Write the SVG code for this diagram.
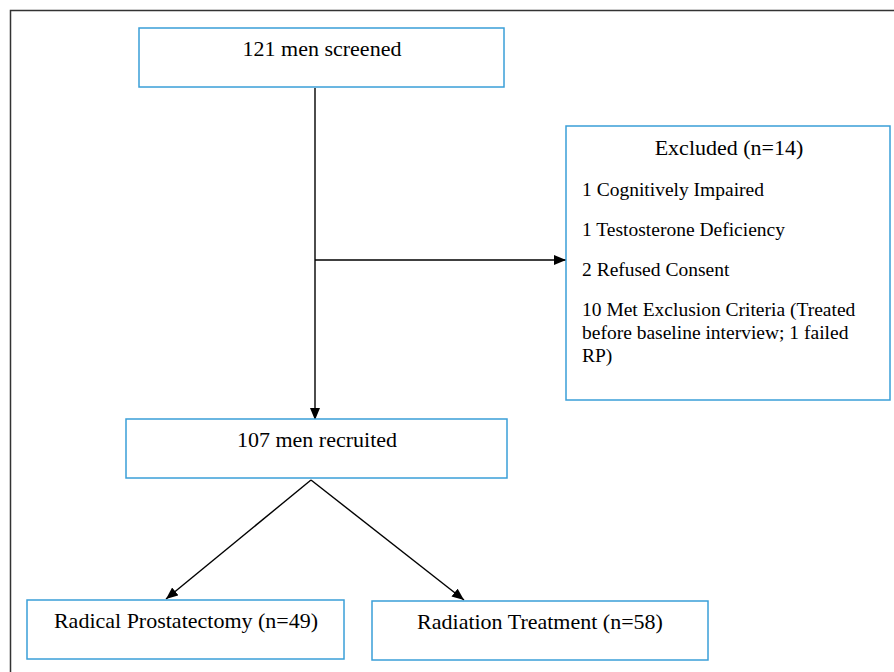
<svg xmlns="http://www.w3.org/2000/svg" width="894" height="672" viewBox="0 0 894 672">
<defs>
<style>
.box{fill:#fff;stroke:#3a9fd8;stroke-width:1.5}
.t{font-family:"Liberation Serif","Times New Roman",serif;fill:#000}
.c{font-size:22px;text-anchor:middle}
.s{font-size:19.5px}
.conn{stroke:#000;stroke-width:1.4;fill:none}
</style>
<marker id="ah" viewBox="0 0 12 10" refX="12" refY="5" markerWidth="12" markerHeight="10" markerUnits="userSpaceOnUse" orient="auto">
<path d="M0,0 L12,5 L0,10 z" fill="#000"/>
</marker>
</defs>
<rect x="0" y="0" width="894" height="672" fill="#fff"/>
<path d="M10.5,672 V10.5 H894" fill="none" stroke="#333" stroke-width="1.5"/>
<g id="connectors">
<line class="conn" x1="315" y1="88" x2="315" y2="420" marker-end="url(#ah)"/>
<line class="conn" x1="315" y1="260" x2="566" y2="260" marker-end="url(#ah)"/>
<line class="conn" x1="311" y1="480" x2="166" y2="599" marker-end="url(#ah)"/>
<line class="conn" x1="311" y1="480" x2="464" y2="600" marker-end="url(#ah)"/>
</g>
<g id="screened">
<rect class="box" x="139" y="28" width="365" height="59"/>
<text class="t c" x="322" y="56">121 men screened</text>
</g>
<g id="excluded">
<rect class="box" x="566" y="126" width="324" height="274"/>
<text class="t c" x="729" y="155">Excluded (n=14)</text>
<text class="t s" x="582" y="196">1 Cognitively Impaired</text>
<text class="t s" x="582" y="236">1 Testosterone Deficiency</text>
<text class="t s" x="582" y="276">2 Refused Consent</text>
<text class="t s" x="582" y="316">10 Met Exclusion Criteria (Treated</text>
<text class="t s" x="582" y="339">before baseline interview; 1 failed</text>
<text class="t s" x="582" y="362">RP)</text>
</g>
<g id="recruited">
<rect class="box" x="126" y="419" width="381" height="59"/>
<text class="t c" x="317" y="447">107 men recruited</text>
</g>
<g id="prostatectomy">
<rect class="box" x="27" y="600" width="317" height="59"/>
<text class="t c" x="186" y="628">Radical Prostatectomy (n=49)</text>
</g>
<g id="radiation">
<rect class="box" x="372" y="601" width="336" height="59"/>
<text class="t c" x="540" y="629">Radiation Treatment (n=58)</text>
</g>
</svg>
